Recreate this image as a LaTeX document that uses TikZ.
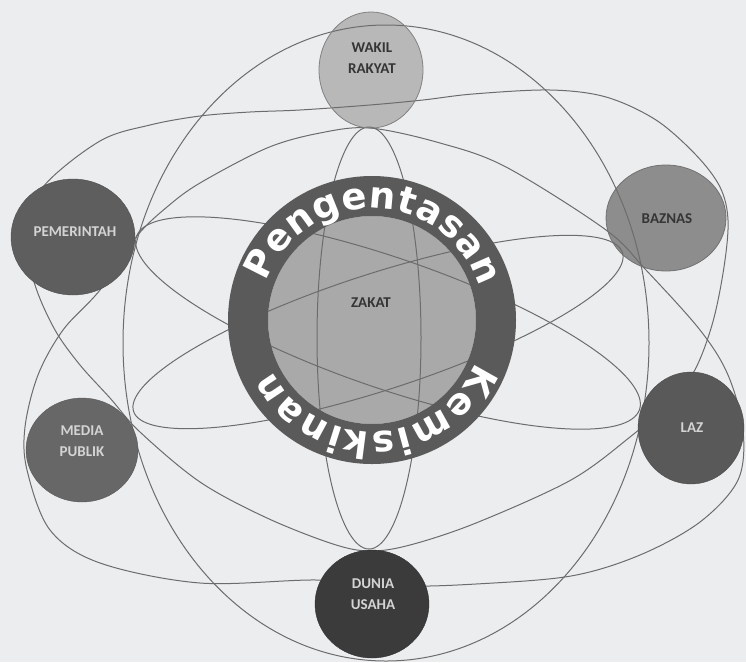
\documentclass[tikz,border=0pt]{standalone}
\usepackage{fontspec}
\usetikzlibrary{shapes.geometric}
\newfontfamily\labfont{Carlito}
\newfontfamily\ringfont{DejaVu Sans}
\definecolor{bg}{HTML}{EBEDEF}
\definecolor{orbitc}{HTML}{6C6C6C}
\definecolor{wakilc}{HTML}{B8B8B8}
\definecolor{pemc}{HTML}{5E5E5E}
\definecolor{baznasc}{HTML}{8D8D8D}
\definecolor{lazc}{HTML}{595959}
\definecolor{mediac}{HTML}{676767}
\definecolor{duniac}{HTML}{3B3B3B}
\definecolor{ringc}{HTML}{5A5A5A}
\definecolor{zakatc}{HTML}{A9A9A9}
\definecolor{darktxt}{HTML}{353535}
\definecolor{lighttxt}{HTML}{D4D4D4}
\begin{document}
\begin{tikzpicture}[x=1pt,y=-1pt,
  orbit/.style={draw=orbitc, line width=1pt},
  disc/.style={ellipse, inner sep=0pt},
  lab/.style={font=\labfont\bfseries\fontsize{15}{21}\selectfont, align=center, inner sep=0pt},
  ringletter/.style={font=\ringfont\bfseries\fontsize{37}{37}\selectfont, text=white, inner sep=0pt, anchor=base}]
\useasboundingbox (0,0) rectangle (746,662);
\fill[bg] (0,0) rectangle (746,662);

% light discs (lines show through them)
\node[circle, inner sep=0pt, minimum size=208pt, fill=zakatc] (zakat) at (372,320) {};
\node[disc, minimum width=104pt, minimum height=116pt, fill=wakilc] (wakil) at (371,70) {};
\node[disc, minimum width=120pt, minimum height=106pt, fill=baznasc] (baznas) at (666,218) {};

% orbit curves
\draw[orbit] (386,343) ellipse [x radius=263pt, y radius=318pt];
\draw[orbit] (369,338) ellipse [x radius=52pt, y radius=211pt];
\draw[orbit] plot[domain=0:360, samples=145, smooth]
  ({388 + 266*cos(\x)*cos(19) - 65*sin(\x)*sin(19)},
   {323 + 266*cos(\x)*sin(19) + 65*sin(\x)*cos(19)}) -- cycle;
\draw[orbit] plot[domain=0:360, samples=145, smooth]
  ({378 + 257*cos(\x)*cos(-18) - 58*sin(\x)*sin(-18)},
   {332 + 257*cos(\x)*sin(-18) + 58*sin(\x)*cos(-18)}) -- cycle;
% loop over the top, down through LAZ, back along the inner bottom
\draw[orbit] plot[smooth cycle, tension=0.55] coordinates {
  (43,187) (100,141) (150,125) (200,116) (250,112) (300,110) (370,105)
  (423,100) (473,94) (550,90) (606,97) (656,120) (696,155) (720,187)
  (728,220) (724,267) (712,325) (692,375) (660,410) (630,437) (571,480)
  (476,523) (410,545) (370,551) (333,544) (267,518) (200,482) (140,432)
  (110,398) (80,365) (55,330) (35,285) (25,235)};
% loop along the inner top, around the outer bottom
\draw[orbit] plot[smooth cycle, tension=0.55] coordinates {
  (370,128) (440,143) (506,167) (606,230) (646,270) (700,330) (728,375)
  (743,430) (738,480) (700,522) (640,555) (571,576) (476,584) (400,586)
  (317,580) (200,583) (100,563) (50,530) (27,470) (25,427) (38,375)
  (63,330) (100,290) (137,236) (167,207) (200,183) (267,148) (320,133)};

% dark ring and dark discs (cover the lines)
\fill[ringc, even odd rule] (372,320) circle[radius=144pt] (372,320) circle[radius=104pt];
\node[disc, minimum width=124pt, minimum height=116pt, fill=pemc, draw=pemc!85!black] (pem) at (73,237) {};
\node[disc, minimum width=112pt, minimum height=104pt, fill=mediac, draw=mediac!85!black] (media) at (82,450) {};
\node[disc, minimum width=106pt, minimum height=112pt, fill=lazc, draw=lazc!85!black] (laz) at (691,428) {};
\node[disc, minimum width=114pt, minimum height=108pt, fill=duniac, draw=duniac!85!black] (dunia) at (372,604) {};

% outlines of light discs
\draw[draw=wakilc!70!black, line width=0.8pt] (wakil.center) ellipse [x radius=52pt, y radius=58pt];
\draw[draw=baznasc!80!black, line width=0.8pt] (baznas.center) ellipse [x radius=60pt, y radius=53pt];

% labels
\node[lab, text=darktxt] (wakilT) at (372,58) {WAKIL\\RAKYAT};
\node[lab, text=lighttxt] (pemT) at (75,232) {PEMERINTAH};
\node[lab, text=darktxt] (baznasT) at (667,219) {BAZNAS};
\node[lab, text=lighttxt] (lazT) at (692,428) {LAZ};
\node[lab, text=lighttxt] (mediaT) at (82,441) {MEDIA\\PUBLIK};
\node[lab, text=lighttxt] (duniaT) at (373,594) {DUNIA\\USAHA};
\node[lab, text=darktxt] (zakatT) at (371,303) {ZAKAT};

% ring text, letter by letter (tops pointing outward)
\foreach \ch/\t [count=\i] in {P/206.9, e/220.6, n/234.1, g/248.0, e/261.6, n/275.1,
                               t/286.7, a/298.0, s/310.4, a/322.8, n/336.3}
  \node[ringletter, rotate={-\t-90}] (top\i) at ({372+112*cos(\t)},{320+112*sin(\t)}) {\ch};
\foreach \ch/\t [count=\i] in {K/29.3, e/43.8, m/60.9, i/74.8, s/84.5, k/97.3,
                               i/107.6, n/118.4, a/132.4, n/146.3}
  \node[ringletter, rotate={-\t-90}] (bot\i) at ({372+112*cos(\t)},{320+112*sin(\t)}) {\ch};
\end{tikzpicture}
\end{document}
